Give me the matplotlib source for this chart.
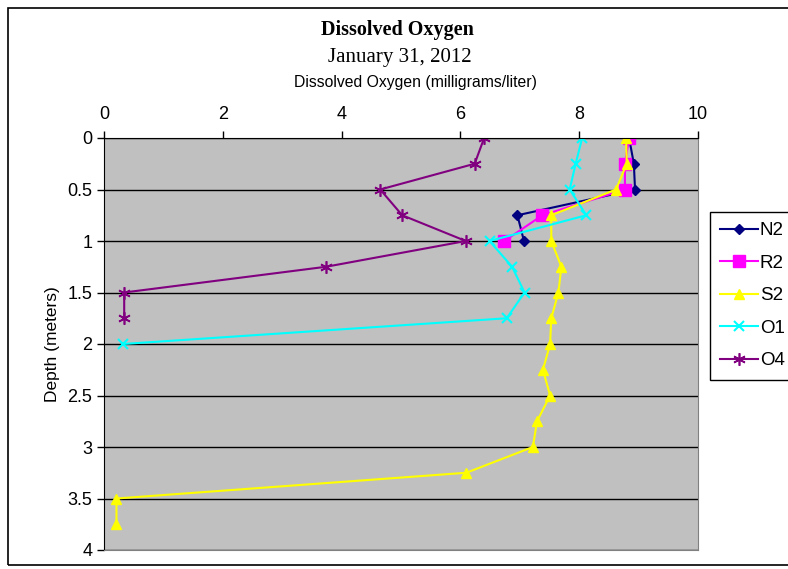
import matplotlib
matplotlib.use("Agg")
import matplotlib.pyplot as plt
from matplotlib.patches import Rectangle

depth = [0, 0.25, 0.5, 0.75, 1.0, 1.25, 1.5, 1.75, 2.0, 2.25, 2.5, 2.75, 3.0, 3.25, 3.5, 3.75]

n2 = [8.84, 8.92, 8.94, 6.96, 7.07]
r2 = [8.84, 8.77, 8.77, 7.38, 6.74]
s2 = [8.79, 8.80, 8.62, 7.53, 7.53, 7.70, 7.65, 7.53, 7.51, 7.39, 7.51, 7.29, 7.22, 6.10, 0.21, 0.21]
o1 = [8.05, 7.94, 7.84, 8.12, 6.49, 6.87, 7.08, 6.78, 0.32]
o4 = [6.40, 6.24, 4.65, 5.02, 6.09, 3.74, 0.34, 0.34]

series_names = ["N2", "R2", "S2", "O1", "O4"]
x_ticks = [0, 2, 4, 6, 8, 10]
y_ticks = [0, 0.5, 1, 1.5, 2, 2.5, 3, 3.5, 4]

W, H = 788, 569
fig = plt.figure(figsize=(W / 100, H / 100), dpi=100)
fig.patch.set_facecolor("white")

# outer chart frame
fig.patches.append(Rectangle((8 / W, 1 - 565 / H), 1.0, (565 - 8) / H,
                             transform=fig.transFigure, fill=False,
                             edgecolor="black", linewidth=1.2))

ax = fig.add_axes([104 / W, 1 - 550 / H, (698 - 104) / W, (550 - 138) / H])
ax.set_facecolor("#c0c0c0")

ax.plot(n2, depth[:len(n2)], color="#000080", marker="D", markersize=5, lw=1.5, label=series_names[0])
ax.plot(r2, depth[:len(r2)], color="#ff00ff", marker="s", markersize=8, lw=1.5, label=series_names[1])
ax.plot(s2, depth[:len(s2)], color="#ffff00", marker="^", markersize=7, lw=1.5, label=series_names[2])
ax.plot(o1, depth[:len(o1)], color="#00ffff", marker="x", markersize=7, mew=1.5, lw=1.5, label=series_names[3])
ax.plot(o4, depth[:len(o4)], color="#800080", marker=(6, 2, 0), markersize=9, mew=1.2, lw=1.5, label=series_names[4])

ax.set_xlim(0, 10)
ax.set_ylim(4, 0)
ax.set_xticks(x_ticks)
ax.set_yticks(y_ticks)
ax.set_yticklabels([("%g" % v) for v in y_ticks])
ax.xaxis.tick_top()
ax.xaxis.set_label_position("top")
ax.tick_params(axis="both", labelsize=13, direction="out", length=5, width=1, colors="black")
ax.tick_params(axis="x", pad=6)
for t in ax.get_xticklabels() + ax.get_yticklabels():
    t.set_family("Liberation Sans")

ax.yaxis.grid(True, color="black", linewidth=1)
ax.set_axisbelow(True)
for s in ["right", "bottom"]:
    ax.spines[s].set_color("#808080")
ax.spines["top"].set_color("black")
ax.spines["left"].set_color("black")

ax.set_ylabel("Depth (meters)", fontsize=12.5, family="Liberation Sans", labelpad=5)

fig.text(397 / W, 1 - 30 / H, "Dissolved Oxygen", ha="center", va="center",
         fontsize=14.5, fontweight="bold", family="Liberation Serif")
fig.text(400 / W, 1 - 57 / H, "January 31, 2012", ha="center", va="center",
         fontsize=15, family="Liberation Serif")
fig.text(415 / W, 1 - 83 / H, "Dissolved Oxygen (milligrams/liter)", ha="center", va="center",
         fontsize=11.3, family="Liberation Sans")

handles, labels = ax.get_legend_handles_labels()
leg = fig.legend(handles, labels, loc="upper left", bbox_to_anchor=(710 / W, 1 - 212 / H),
                 frameon=True, fancybox=False, edgecolor="black", framealpha=1,
                 prop={"family": "Liberation Sans", "size": 13.5},
                 handlelength=2.0, handletextpad=0.1, labelspacing=0.82, borderpad=0.55,
                 borderaxespad=0)
leg.get_frame().set_linewidth(1)

fig.savefig("out.png", dpi=100)
